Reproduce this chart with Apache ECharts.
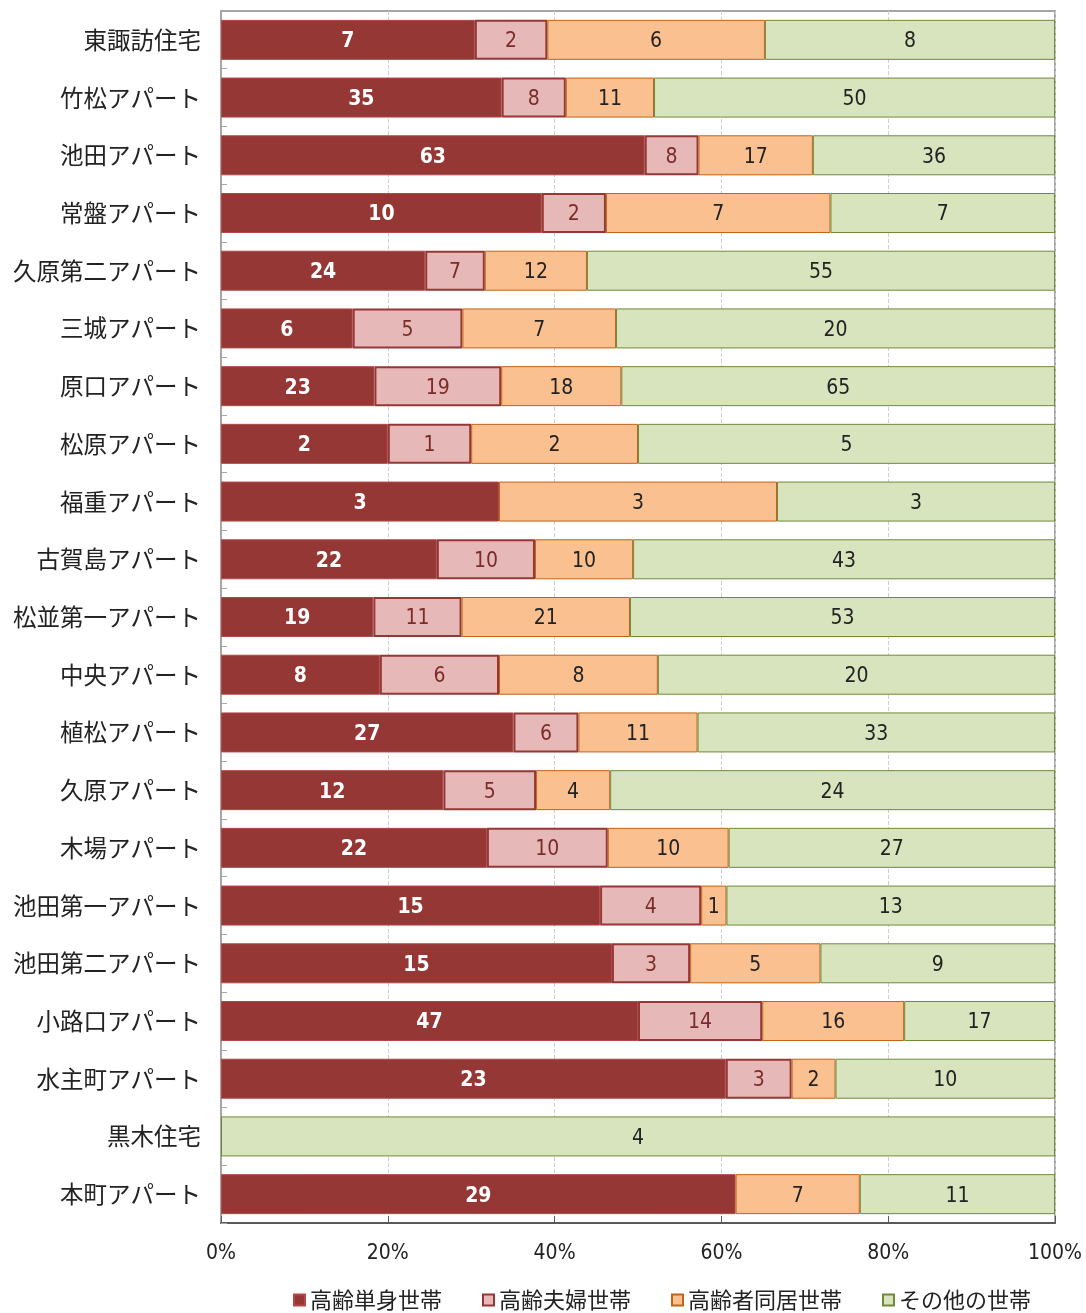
<!DOCTYPE html>
<html>
<head>
<meta charset="utf-8">
<script src="https://cdn.jsdelivr.net/npm/echarts@6/dist/echarts.min.js"></script>
<style>
html,body{margin:0;padding:0;background:#fff;}
#chart{width:1086px;height:1313px;}
</style>
</head>
<body>
<div id="chart"></div>
<script>
const categories = ['東諏訪住宅','竹松アパート','池田アパート','常盤アパート','久原第二アパート','三城アパート','原口アパート','松原アパート','福重アパート','古賀島アパート','松並第一アパート','中央アパート','植松アパート','久原アパート','木場アパート','池田第一アパート','池田第二アパート','小路口アパート','水主町アパート','黒木住宅','本町アパート'];
const seriesNames = ['高齢単身世帯','高齢夫婦世帯','高齢者同居世帯','その他の世帯'];
const singleHH = [7,35,63,10,24,6,23,2,3,22,19,8,27,12,22,15,15,47,23,0,29];
const coupleHH = [2,8,8,2,7,5,19,1,0,10,11,6,6,5,10,4,3,14,3,0,0];
const cohabitHH = [6,11,17,7,12,7,18,2,3,10,21,8,11,4,10,1,5,16,2,0,7];
const otherHH = [8,50,36,7,55,20,65,5,3,43,53,20,33,24,27,13,9,17,10,4,11];
const xTicks = [0,20,40,60,80,100];

const raw = [singleHH, coupleHH, cohabitHH, otherHH];
const totals = categories.map((_, i) => raw.reduce((s, a) => s + a[i], 0));
const pct = raw.map(a => a.map((v, i) => v === 0 ? null : v / totals[i] * 100));

const numFont = '"DejaVu Sans Condensed", "Liberation Sans Narrow", "Noto Sans CJK JP", sans-serif';
const jpFont = '"Noto Sans CJK JP", sans-serif';

const styles = [
  {item:{color:'#953735', borderColor:'#b24a48', borderWidth:1}, label:{color:'#ffffff', fontWeight:'bold'}},
  {item:{color:'#e6b9b8', borderColor:'#953735', borderWidth:2}, label:{color:'#7a2c2a', fontWeight:'normal'}},
  {item:{color:'#fac090', borderColor:'#c0641a', borderWidth:1}, label:{color:'#222222', fontWeight:'normal'}},
  {item:{color:'#d7e4bd', borderColor:'#6f8a3a', borderWidth:1}, label:{color:'#222222', fontWeight:'normal'}}
];

const chart = echarts.init(document.getElementById('chart'));
chart.setOption({
  animation:false,
  textStyle:{fontFamily:jpFont},
  grid:{left:221, right:31, top:11, bottom:90, show:true, borderColor:'#a6a6a6', borderWidth:2, containLabel:false},
  legend:{
    bottom:-3, left:288, itemWidth:11, itemHeight:11, itemGap:40,
    icon:'rect',
    textStyle:{fontSize:22, color:'#222', fontFamily:jpFont},
    data: seriesNames
  },
  xAxis:{
    type:'value', min:0, max:100, interval:20,
    axisLine:{show:true, lineStyle:{color:'#595959', width:2}},
    axisTick:{show:true, inside:true, length:7, lineStyle:{color:'#595959'}},
    axisLabel:{formatter: v => v + '%', fontSize:21, color:'#222', margin:20, fontFamily:numFont},
    splitLine:{show:true, lineStyle:{color:'#cfcfcf', type:'dashed', width:1}}
  },
  yAxis:{
    type:'category', data: categories, inverse:true,
    axisLine:{show:true, lineStyle:{color:'#a6a6a6', width:2}},
    axisTick:{show:true, inside:true, length:6, lineStyle:{color:'#a6a6a6'}},
    axisLabel:{fontSize:23.5, color:'#222', margin:20}
  },
  series: seriesNames.map((name, k) => ({
    name, type:'bar', stack:'total', barWidth:40,
    data: pct[k],
    itemStyle: styles[k].item,
    label:{
      show:true, position:'inside', offset:[0,2],
      fontSize:21, fontFamily:numFont,
      color: styles[k].label.color, fontWeight: styles[k].label.fontWeight,
      formatter: p => raw[k][p.dataIndex] === 0 ? '' : String(raw[k][p.dataIndex])
    },
    emphasis:{disabled:true}
  }))
});
</script>
</body>
</html>
